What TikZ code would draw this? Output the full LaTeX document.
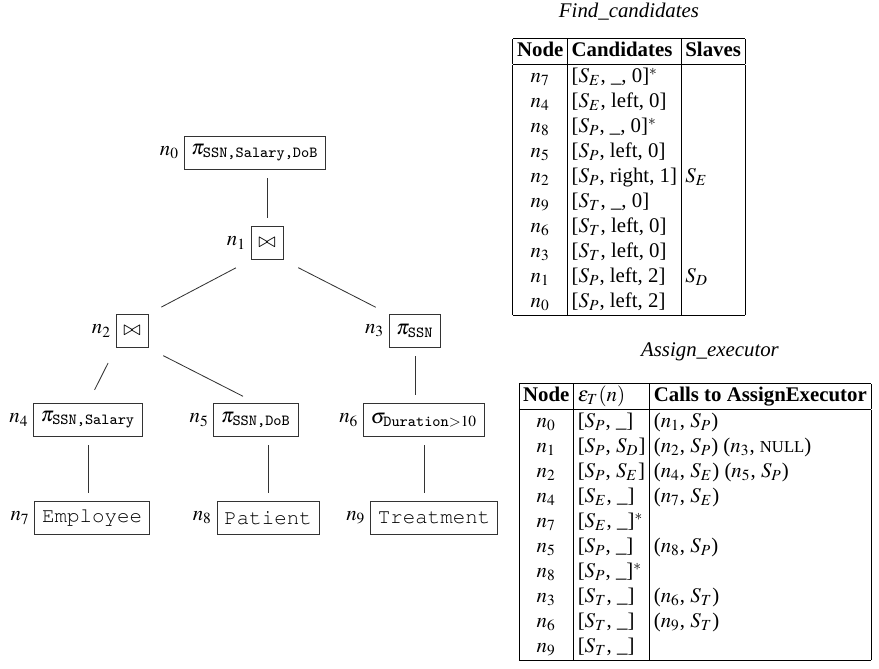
\documentclass[tikz,border=0pt]{standalone}
\usepackage{mathptmx}
\usepackage{amsmath}
\usepackage{fontspec}
\setmainfont{Liberation Serif}
\newcommand{\relfont}{\fontencoding{OT1}\fontfamily{pcr}\selectfont}
\usepackage{tikz}
\usetikzlibrary{positioning}
\setlength{\tabcolsep}{2pt}
\tikzset{%
	opbox/.style={
		draw=black!80,
		inner sep=3.5pt,
		minimum height=16pt
	},
	relbox/.style={
		opbox,
		font=\relfont
	},
	tree edge/.style={
		draw=black!80,
		shorten <=4pt,
		shorten >=4pt
	},
}

\begin{document}
\begin{tikzpicture}[
			x=0.48pt, y=-0.48pt,
			every label/.style={inner sep=2pt},
			slant edge/.style={tree edge, shorten <=8pt, shorten >=7pt},
			tab/.style={inner sep=0pt, anchor=north}
			]
			\useasboundingbox (0,0) rectangle (879,668);
			
			% Nodes of the tree
			\node[opbox, label=left:$n_0$] (n0) at (255,153) {$\pi_{\texttt{SSN,Salary,DoB}}$};
			\node[opbox, label=left:$n_1$] (n1) at (267,243) {$\bowtie$};
			\node[opbox, label=left:$n_2$] (n2) at (132,331) {$\bowtie$};
			\node[opbox, label=left:$n_3$] (n3) at (415,331) {$\pi_{\texttt{SSN}}$};
			\node[opbox, label=left:$n_4$] (n4) at (88,420) {$\pi_{\texttt{SSN,Salary}}$};
			\node[opbox, label=left:$n_5$] (n5) at (256,420) {$\pi_{\texttt{SSN,DoB}}$};
			\node[opbox, label=left:$n_6$] (n6) at (424,420) {$\sigma_{\texttt{Duration}>10}$};
			\node[relbox, label=left:$n_7$] (n7) at (92,518) {Employee};
			\node[relbox, label=left:$n_8$] (n8) at (268,518) {Patient};
			\node[relbox, label=left:$n_9$] (n9) at (434,518) {Treatment};
			
			% Edges of the tree
			\draw[tree edge] (n1.north) -- (n1.north |- n0.south);
			\draw[slant edge] (n1.south west) -- (n2.north east);
			\draw[slant edge] (n1.south east) -- (n3.north west);
			\draw[slant edge] (n2.south west) -- (n4.north);
			\draw[slant edge] (n2.south east) -- (n5.north);
			\draw[tree edge] (n3.south) -- (n3.south |- n6.north);
			\draw[tree edge] (n4.south) -- (n4.south |- n7.north);
			\draw[tree edge] (n8.north) -- (n8.north |- n5.south);
			\draw[tree edge] (n6.south) -- (n6.south |- n9.north);
			
			% Find_candidates table
			\node[tab] (findtab) at (629,38) {%
				\begin{tabular}{|c|l|l|}
					\hline
					\textbf{Node} & \textbf{Candidates} & \textbf{Slaves} \\ \hline
					$n_7$ & [$S_E$, \_, 0]$^*$ & \\
					$n_4$ & [$S_E$, left, 0] & \\
					$n_8$ & [$S_P$, \_, 0]$^*$ & \\
					$n_5$ & [$S_P$, left, 0] & \\
					$n_2$ & [$S_P$, right, 1] & $S_E$ \\
					$n_9$ & [$S_T$, \_, 0] & \\
					$n_6$ & [$S_T$, left, 0] & \\
					$n_3$ & [$S_T$, left, 0] & \\
					$n_1$ & [$S_P$, left, 2] & $S_D$ \\
					$n_0$ & [$S_P$, left, 2] & \\
					\hline
				\end{tabular}};
			\node[above=5pt of findtab] (findtitle) {\textit{Find\_candidates}};
			
			% Assign_executor table
			\node[tab] (assigntab) at (695,383) {%
				\begin{tabular}{|c|l|l|}
					\hline
					\textbf{Node} & $\varepsilon_T(n)$ & \textbf{Calls to AssignExecutor} \\ \hline
					$n_0$ & [$S_P$, \_] & ($n_1$, $S_P$) \\
					$n_1$ & [$S_P$, $S_D$] & ($n_2$, $S_P$) ($n_3$, {\footnotesize NULL}) \\
					$n_2$ & [$S_P$, $S_E$] & ($n_4$, $S_E$) ($n_5$, $S_P$) \\
					$n_4$ & [$S_E$, \_] & ($n_7$, $S_E$) \\
					$n_7$ & [$S_E$, \_]$^*$ & \\
					$n_5$ & [$S_P$, \_] & ($n_8$, $S_P$) \\
					$n_8$ & [$S_P$, \_]$^*$ & \\
					$n_3$ & [$S_T$, \_] & ($n_6$, $S_T$) \\
					$n_6$ & [$S_T$, \_] & ($n_9$, $S_T$) \\
					$n_9$ & [$S_T$, \_] & \\
					\hline
				\end{tabular}};
			\node (assigntitle) at (710,352) {\textit{Assign\_executor}};
			
		\end{tikzpicture}
\end{document}
